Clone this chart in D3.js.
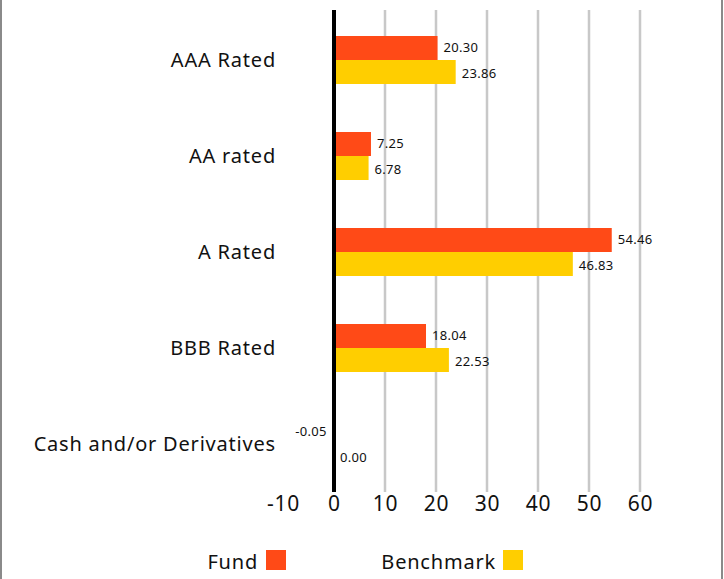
<!DOCTYPE html>
<html><head><meta charset="utf-8">
<script src="https://cdn.jsdelivr.net/npm/d3@7"></script>
<style>
body{margin:0;background:#fff;}
svg{display:block;font-family:"Noto Sans",sans-serif;}
</style></head>
<body>
<svg id="chart" width="724" height="579"></svg>
<script>
const categories = ["AAA Rated","AA rated","A Rated","BBB Rated","Cash and/or Derivatives"];
const fundValues = [20.30, 7.25, 54.46, 18.04, -0.05];
const benchmarkValues = [23.86, 6.78, 46.83, 22.53, 0.00];
const seriesNames = ["Fund","Benchmark"];
const seriesColors = ["#FF4A17","#FFCE00"];
const xTicks = [-10,0,10,20,30,40,50,60];

const svg = d3.select("#chart");
const W = 724, H = 579;

// borders left & right
svg.append("line").attr("x1",1).attr("x2",1).attr("y1",0).attr("y2",H).attr("stroke","#8a8a8a").attr("stroke-width",2);
svg.append("line").attr("x1",722).attr("x2",722).attr("y1",0).attr("y2",H).attr("stroke","#8a8a8a").attr("stroke-width",2);

const x = d3.scaleLinear().domain([-10,60]).range([283,640]);
const y = d3.scaleBand().domain(categories).range([12,492]).paddingInner(0.5).paddingOuter(0.25);
const ySub = d3.scaleBand().domain(seriesNames).range([0,y.bandwidth()]);

// gridlines
svg.append("g").selectAll("line").data(xTicks.filter(t=>t>0)).join("line")
  .attr("x1",d=>x(d)).attr("x2",d=>x(d)).attr("y1",10).attr("y2",492)
  .attr("stroke","#c8c8c8").attr("stroke-width",2.5);

// tick labels via axis
const axis = d3.axisBottom(x).tickValues(xTicks).tickSize(0).tickPadding(0).tickFormat(d=>String(d));
const ag = svg.append("g").attr("transform","translate(0,496)").call(axis);
ag.select(".domain").remove();
ag.selectAll("text").attr("font-size",21).attr("fill","#111").attr("dy","0.71em")
  .attr("font-family","Noto Sans, sans-serif").attr("letter-spacing","0.8px");

// category labels
svg.append("g").selectAll("text").data(categories).join("text")
  .attr("x",276).attr("y",d=>y(d)+y.bandwidth()/2)
  .attr("dy","0.35em").attr("text-anchor","end").attr("font-size",20).attr("fill","#111")
  .attr("letter-spacing","0.8px")
  .text(d=>d);

// bars
const rows = categories.map((c,i)=>[
  {cat:c,s:"Fund",v:fundValues[i],color:seriesColors[0]},
  {cat:c,s:"Benchmark",v:benchmarkValues[i],color:seriesColors[1]}
]).flat();

svg.append("g").selectAll("rect").data(rows).join("rect")
  .attr("x",d=>x(Math.min(0,d.v))).attr("width",d=>Math.abs(x(d.v)-x(0)))
  .attr("y",d=>y(d.cat)+ySub(d.s)).attr("height",ySub.bandwidth())
  .attr("fill",d=>d.color);

svg.append("g").selectAll("text").data(rows).join("text")
  .attr("x",d=>d.v<0 ? x(d.v)-7 : x(d.v)+6)
  .attr("text-anchor",d=>d.v<0?"end":"start")
  .attr("y",d=>y(d.cat)+ySub(d.s)+ySub.bandwidth()/2 + (d.s==="Fund"?-1:1))
  .attr("dy","0.35em").attr("font-size",13).attr("fill","#111")
  .attr("letter-spacing","0.3px")
  .text(d=>d.v.toFixed(2));

// zero line
svg.append("line").attr("x1",x(0)).attr("x2",x(0)).attr("y1",10).attr("y2",492)
  .attr("stroke","#000").attr("stroke-width",4);

// legend
const legend = [
  {name:seriesNames[0],color:seriesColors[0],tx:258,sx:266},
  {name:seriesNames[1],color:seriesColors[1],tx:496,sx:503}
];
const lg = svg.append("g");
lg.selectAll("text").data(legend).join("text")
  .attr("x",d=>d.tx).attr("y",562).attr("dy","0.35em").attr("text-anchor","end")
  .attr("font-size",20).attr("fill","#111").attr("letter-spacing","0.8px").text(d=>d.name);
lg.selectAll("rect").data(legend).join("rect")
  .attr("x",d=>d.sx).attr("y",550).attr("width",20).attr("height",20).attr("fill",d=>d.color);
</script>
</body></html>
